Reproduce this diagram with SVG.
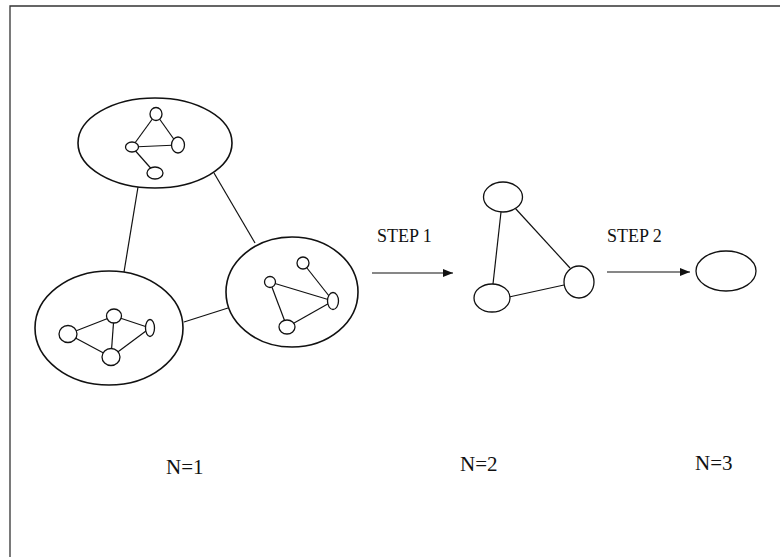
<svg xmlns="http://www.w3.org/2000/svg" width="780" height="557" viewBox="0 0 780 557">
<style>
.bg{fill:#fff}
.frame{fill:none;stroke:#333;stroke-width:1.3}
.cl{fill:#fff;stroke:#111;stroke-width:1.6}
.nd{fill:#fff;stroke:#111;stroke-width:1.3}
.ln{stroke:#111;stroke-width:1.2;fill:none}
.t{font-family:"Liberation Serif","Times New Roman",serif;fill:#111}
</style>
<defs>
<marker id="ah" viewBox="0 0 10 10" refX="10" refY="5" markerWidth="10" markerHeight="10" markerUnits="userSpaceOnUse" orient="auto">
<path d="M0,1 L10,5 L0,9 Z" fill="#111"/>
</marker>
</defs>
<rect class="bg" x="0" y="0" width="780" height="557"/>
<path class="frame" d="M10,557 L10,6 L780,6"/>
<g id="connectors">
<line class="ln" x1="138" y1="187" x2="124" y2="272"/>
<line class="ln" x1="214" y1="173" x2="255" y2="243"/>
<line class="ln" x1="184" y1="322" x2="228" y2="308"/>
<line class="ln" x1="372" y1="273" x2="453" y2="273" marker-end="url(#ah)"/>
<line class="ln" x1="607" y1="272" x2="690" y2="272" marker-end="url(#ah)"/>
<line class="ln" x1="501" y1="212" x2="493" y2="284"/>
<line class="ln" x1="515" y1="208" x2="570" y2="268"/>
<line class="ln" x1="509" y1="297" x2="564" y2="285"/>
</g>
<g id="cluster-top">
<ellipse class="cl" cx="155" cy="143" rx="77" ry="45"/>
<line class="ln" x1="132" y1="147" x2="156" y2="114"/>
<line class="ln" x1="132" y1="147" x2="178" y2="145"/>
<line class="ln" x1="132" y1="147" x2="155" y2="173"/>
<line class="ln" x1="156" y1="114" x2="178" y2="145"/>
<ellipse class="nd" cx="156" cy="114" rx="6" ry="6.5"/>
<ellipse class="nd" cx="132" cy="147" rx="6.5" ry="5"/>
<ellipse class="nd" cx="178" cy="145" rx="6.5" ry="8"/>
<ellipse class="nd" cx="155" cy="173" rx="8" ry="6"/>
</g>
<g id="cluster-left">
<ellipse class="cl" cx="109" cy="328" rx="74" ry="57"/>
<line class="ln" x1="68" y1="334" x2="114" y2="316"/>
<line class="ln" x1="68" y1="334" x2="111" y2="357"/>
<line class="ln" x1="114" y1="316" x2="111" y2="357"/>
<line class="ln" x1="114" y1="316" x2="150" y2="328"/>
<line class="ln" x1="111" y1="357" x2="150" y2="328"/>
<ellipse class="nd" cx="68" cy="334" rx="9" ry="8.5"/>
<ellipse class="nd" cx="114" cy="316" rx="7.5" ry="7"/>
<ellipse class="nd" cx="111" cy="357" rx="9" ry="8.5"/>
<ellipse class="nd" cx="150" cy="328" rx="4.5" ry="8.5"/>
</g>
<g id="cluster-right">
<ellipse class="cl" cx="292" cy="292" rx="66" ry="55"/>
<line class="ln" x1="270" y1="282" x2="333" y2="301"/>
<line class="ln" x1="303" y1="263" x2="333" y2="301"/>
<line class="ln" x1="270" y1="282" x2="287" y2="327"/>
<line class="ln" x1="287" y1="327" x2="333" y2="301"/>
<ellipse class="nd" cx="303" cy="263" rx="6" ry="6"/>
<ellipse class="nd" cx="270" cy="282" rx="5.5" ry="5.5"/>
<ellipse class="nd" cx="333" cy="301" rx="5.5" ry="8.5"/>
<ellipse class="nd" cx="287" cy="327" rx="8" ry="7"/>
</g>
<g id="mid-top"><ellipse class="nd" cx="503" cy="197" rx="19.5" ry="15"/></g>
<g id="mid-left"><ellipse class="nd" cx="492" cy="298" rx="18" ry="14"/></g>
<g id="mid-right"><ellipse class="nd" cx="579" cy="282" rx="15" ry="16"/></g>
<g id="final"><ellipse class="nd" cx="726" cy="271" rx="30" ry="20"/></g>
<g id="labels">
<text class="t" x="377" y="242" font-size="18">STEP 1</text>
<text class="t" x="607" y="242" font-size="18">STEP 2</text>
<text class="t" x="166" y="474" font-size="21">N=1</text>
<text class="t" x="460" y="471" font-size="21">N=2</text>
<text class="t" x="695" y="470" font-size="21">N=3</text>
</g>
</svg>
